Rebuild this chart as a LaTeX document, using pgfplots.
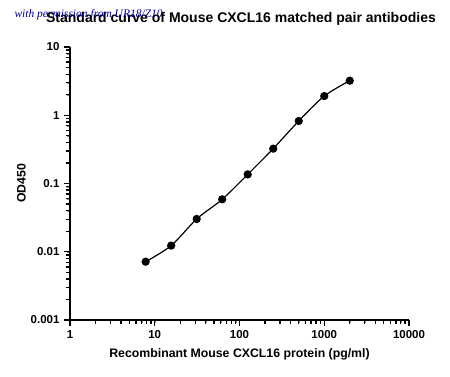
\documentclass[border=0pt]{standalone}
\usepackage{pgfplots}
\pgfplotsset{compat=1.18}
\usepackage{fontspec}
\setmainfont{Liberation Sans}
\newfontfamily\wmfont{Liberation Serif}
\begin{document}
\begin{tikzpicture}
\path[use as bounding box] (0pt,0pt) rectangle (450pt,377pt);
\begin{axis}[
  at={(70pt,57pt)}, anchor=south west,
  scale only axis, width=339pt, height=273pt,
  xmode=log, ymode=log,
  xmin=1, xmax=10000, ymin=0.001, ymax=10,
  axis lines=left,
  axis line style={line width=1.8pt, -},
  xtick={1,10,100,1000,10000},
  xticklabels={1,10,100,1000,10000},
  ytick={0.001,0.01,0.1,1,10},
  yticklabels={0.001,0.01,0.1,1,10},
  tick align=outside,
  major tick length=6pt,
  every major tick/.append style={black, line width=1.3pt},
  tick label style={font=\fontsize{11.5}{13}\selectfont\bfseries},
  xticklabel style={yshift=-1pt},
  yticklabel style={xshift=-1pt},
  xlabel={Recombinant Mouse CXCL16 protein (pg/ml)},
  ylabel={OD450},
  label style={font=\fontsize{12.3}{14}\selectfont\bfseries},
  xlabel style={yshift=-3pt},
  ylabel style={yshift=-2pt},
  clip=false,
]
\pgfplotsinvokeforeach{1,10,100,1000,10000}{
  \draw[line width=1.3pt] (axis cs:#1,0.001) -- ++(0pt,-6pt);}
\pgfplotsinvokeforeach{2,3,4,5,6,7,8,9,20,30,40,50,60,70,80,90,200,300,400,500,600,700,800,900,2000,3000,4000,5000,6000,7000,8000,9000}{
  \draw[line width=1.3pt] (axis cs:#1,0.001) -- ++(0pt,-4pt);}
\pgfplotsinvokeforeach{0.001,0.01,0.1,1,10}{
  \draw[line width=1.3pt] (axis cs:1,#1) -- ++(-6pt,0pt);}
\pgfplotsinvokeforeach{0.002,0.003,0.004,0.005,0.006,0.007,0.008,0.009,0.02,0.03,0.04,0.05,0.06,0.07,0.08,0.09,0.2,0.3,0.4,0.5,0.6,0.7,0.8,0.9,2,3,4,5,6,7,8,9}{
  \draw[line width=1.3pt] (axis cs:1,#1) -- ++(-4pt,0pt);}
\addplot[black, line width=1.2pt, smooth, tension=0.5,
  mark=*, mark size=3.5pt, mark options={fill=black}]
  coordinates {
  (7.8125,0.00715) (15.625,0.0123) (31.25,0.0302) (62.5,0.0586)
  (125,0.136) (250,0.324) (500,0.824) (1000,1.91) (2000,3.21)
  };
\end{axis}
\node[font=\fontsize{14}{16}\selectfont\bfseries] at (241pt,358pt) {Standard curve of Mouse CXCL16 matched pair antibodies};
\node[font=\wmfont\itshape\fontsize{11.5}{13}\selectfont, text=blue!60!black, anchor=west] at (11pt,362pt) {with permission from UR18/Z10};
\end{tikzpicture}
\end{document}
